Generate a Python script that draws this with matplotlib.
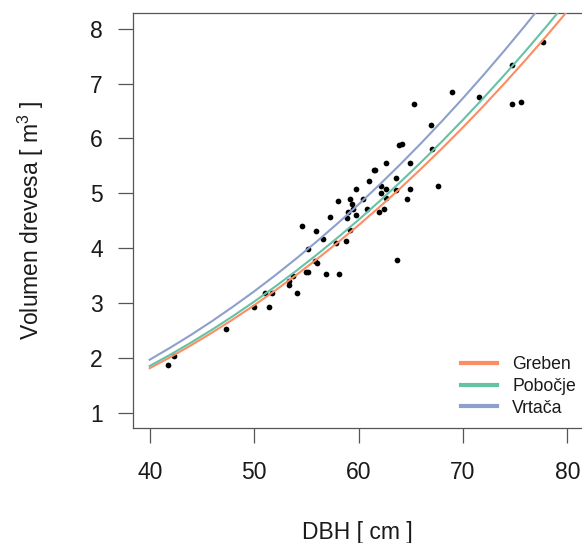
import matplotlib
matplotlib.use("Agg")
import matplotlib.pyplot as plt
from matplotlib.lines import Line2D

plt.rcParams['font.family'] = ['Liberation Sans', 'DejaVu Sans']
plt.rcParams['mathtext.fontset'] = 'custom'
plt.rcParams['mathtext.rm'] = 'Liberation Sans'
plt.rcParams['mathtext.it'] = 'Liberation Sans'

# observed trees
dbh = [41.8, 42.3, 47.3, 50.0, 51.0, 51.4, 51.7, 53.3, 53.3, 53.7, 54.1, 54.6, 55.0, 55.2,
       55.2, 55.9, 56.0, 55.8, 56.6, 56.9, 57.3, 57.8, 58.0, 58.1, 58.8, 58.9, 59.0, 59.2,
       59.2, 59.4, 59.5, 59.8, 59.8, 60.4, 60.8, 61.0, 61.5, 61.6, 62.0, 62.2, 62.2, 62.4,
       62.6, 62.6, 62.6, 63.6, 63.6, 63.7, 63.9, 64.2, 64.6, 64.9, 64.9, 65.3, 66.9, 67.0,
       67.6, 69.0, 71.5, 74.7, 74.7, 75.6, 77.7]
vol = [1.86, 2.04, 2.52, 2.93, 3.19, 2.93, 3.19, 3.32, 3.40, 3.49, 3.19, 4.40, 3.57, 3.57,
       3.99, 4.32, 3.72, 3.76, 4.16, 3.53, 4.56, 4.10, 4.85, 3.52, 4.12, 4.54, 4.65, 4.33,
       4.90, 4.80, 4.72, 5.07, 4.60, 4.89, 4.71, 5.23, 5.42, 5.43, 4.66, 5.01, 5.13, 4.72,
       5.56, 5.07, 4.92, 5.28, 5.05, 3.78, 5.87, 5.90, 4.90, 5.55, 5.08, 6.62, 6.25, 5.80,
       5.13, 6.84, 6.76, 7.33, 6.62, 6.67, 7.76]

# fitted curves
curve_dbh = [40, 42, 44, 46, 48, 50, 52, 54, 56, 58, 60, 62, 64, 66, 68, 70, 72, 74, 76, 78, 80]
greben = [1.81, 2.015, 2.232, 2.462, 2.703, 2.957, 3.224, 3.503, 3.795, 4.099, 4.416,
          4.747, 5.090, 5.447, 5.817, 6.200, 6.596, 7.006, 7.429, 7.866, 8.317]
pobocje = [1.85, 2.060, 2.282, 2.516, 2.763, 3.023, 3.295, 3.580, 3.879, 4.190, 4.514,
           4.852, 5.203, 5.567, 5.945, 6.337, 6.742, 7.161, 7.593, 8.040, 8.500]
vrtaca = [1.965, 2.188, 2.423, 2.672, 2.935, 3.210, 3.500, 3.803, 4.120, 4.450, 4.795,
          5.153, 5.526, 5.913, 6.315, 6.731, 7.161, 7.606, 8.065, 8.540, 9.029]

labels = ['Greben', 'Pobočje', 'Vrtača']
colors = ['#FC8D62', '#66C2A5', '#8DA0CB']
xticks = [40, 50, 60, 70, 80]
yticks = [1, 2, 3, 4, 5, 6, 7, 8]

W, H = 582, 543
fig = plt.figure(figsize=(W / 100, H / 100), dpi=100)
ax = fig.add_axes([133 / W, 1 - 428 / H, (584 - 133) / W, (428 - 13.3) / H])

ax.scatter(dbh, vol, s=17, color='black', linewidths=0, zorder=2)
for ys, c in zip([greben, pobocje, vrtaca], colors):
    ax.plot(curve_dbh, ys, color=c, lw=1.5, zorder=3)

ax.set_xlim(38.4, 81.6)
ax.set_ylim(0.72, 8.28)
ax.set_xticks(xticks)
ax.set_yticks(yticks)
ax.tick_params(axis='both', length=10.8, width=0.9, color='#555555', labelsize=16.5,
               labelcolor='#1a1a1a')
ax.tick_params(axis='x', pad=13)
ax.tick_params(axis='y', pad=11)
for sp in ax.spines.values():
    sp.set_color('#555555')
    sp.set_linewidth(0.9)

fig.text(357.5 / W, 1 - 532 / H, 'DBH [ cm ]', ha='center', va='center', fontsize=16.5,
         color='#1a1a1a')
fig.text(31 / W, 1 - 220.7 / H, 'Volumen drevesa [ m$^3$ ]', ha='center', va='center',
         rotation=90, fontsize=16.5, color='#1a1a1a')

handles = [Line2D([], [], color=c, lw=3) for c in colors]
leg = fig.legend(handles, labels, loc='upper left', bbox_to_anchor=(461 / W, 1 - 356 / H),
                 frameon=False, fontsize=12.7, handlelength=2.05, handletextpad=0.85,
                 labelspacing=0.27, borderpad=0, borderaxespad=0)
for t in leg.get_texts():
    t.set_color('#1a1a1a')

fig.savefig('out.png', dpi=100)
